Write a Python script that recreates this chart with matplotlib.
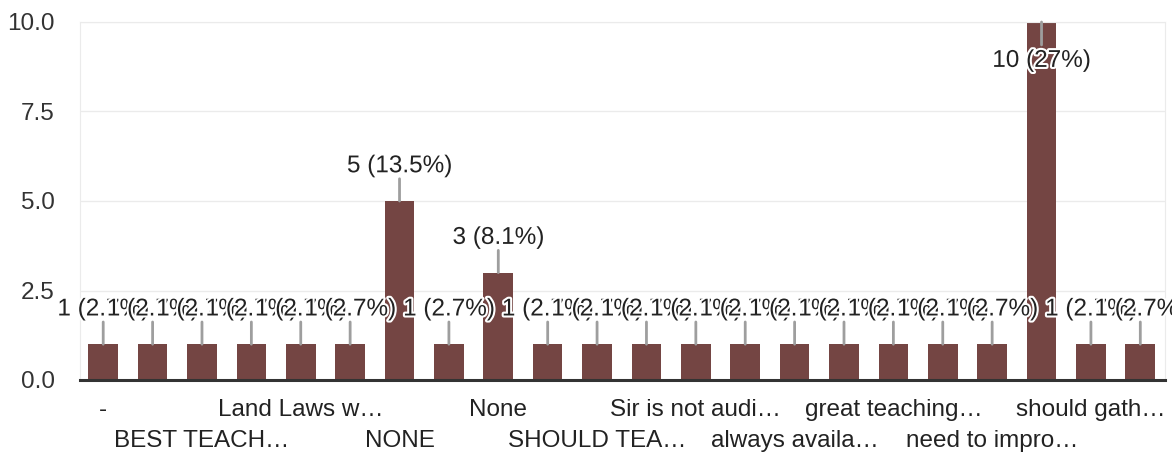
import numpy as np
import matplotlib.pyplot as plt
import matplotlib.patheffects as pe

# data
labels = ['-', '', 'BEST TEACH…', '', 'Land Laws w…', '', 'NONE', '', 'None', '',
          'SHOULD TEA…', '', 'Sir is not audi…', '', 'always availa…', '',
          'great teaching…', '', 'need to impro…', '', 'should gath…', '']
counts = [1, 1, 1, 1, 1, 1, 5, 1, 3, 1, 1, 1, 1, 1, 1, 1, 1, 1, 1, 10, 1, 1]
pct = ['2.7%'] * 22
pct[6] = '13.5%'
pct[8] = '8.1%'
pct[19] = '27%'
yticks = [0, 2.5, 5, 7.5, 10]

plt.rcParams['font.family'] = ['Liberation Sans', 'DejaVu Sans']
fs = 17.5

fig = plt.figure(figsize=(11.72, 4.54), dpi=100)
ax = fig.add_axes([80/1172, 1-380/454, 1085/1172, 358/454])

x = np.arange(len(counts))
ax.bar(x, counts, width=0.6, color='#744543', zorder=2)

ax.set_xlim(-0.47, len(counts) - 0.5)
ax.set_ylim(0, 10)
ax.set_yticks(yticks)
ax.set_yticklabels(['%.1f' % v for v in yticks], fontsize=fs, color='#333333')
ax.grid(axis='y', color='#ebebeb', linewidth=1, zorder=0)

# tick labels in two rows
ticklabs = []
row = 0
for i, l in enumerate(labels):
    if l == '':
        ticklabs.append('')
    else:
        ticklabs.append(l if row == 0 else '\n' + l)
        row = 1 - row
ax.set_xticks(x)
ax.set_xticklabels(ticklabs, fontsize=fs, color='#222222')
for t in ax.get_xticklabels():
    t.set_linespacing(1.48)
ax.tick_params(axis='both', length=0)
ax.tick_params(axis='x', pad=14)
ax.tick_params(axis='y', pad=18)

for s in ['top', 'right', 'left']:
    ax.spines[s].set_color('#ebebeb')
ax.spines['bottom'].set_color('#333333')
ax.spines['bottom'].set_linewidth(2.2)

# value labels with leader lines
for i, c in enumerate(counts):
    txt = '%d (%s)' % (c, pct[i])
    if c >= 10:
        ax.annotate('', xy=(i, c), xytext=(0, -16.5), textcoords='offset points',
                    arrowprops=dict(arrowstyle='-', color='#9e9e9e', lw=2,
                                    shrinkA=0, shrinkB=0), zorder=4)
        ax.annotate(txt, xy=(i, c), xytext=(0, -28), textcoords='offset points',
                    ha='center', va='center', fontsize=fs, color='#222222',
                    path_effects=[pe.withStroke(linewidth=3, foreground='white')],
                    zorder=5, annotation_clip=False)
    else:
        ax.annotate('', xy=(i, c), xytext=(0, 16), textcoords='offset points',
                    arrowprops=dict(arrowstyle='-', color='#9e9e9e', lw=2,
                                    shrinkA=0, shrinkB=0), zorder=4)
        ax.annotate(txt, xy=(i, c), xytext=(0, 25), textcoords='offset points',
                    ha='center', va='center', fontsize=fs, color='#222222',
                    path_effects=[pe.withStroke(linewidth=3, foreground='white')],
                    zorder=5, annotation_clip=False)

fig.savefig('out.png', dpi=100)
